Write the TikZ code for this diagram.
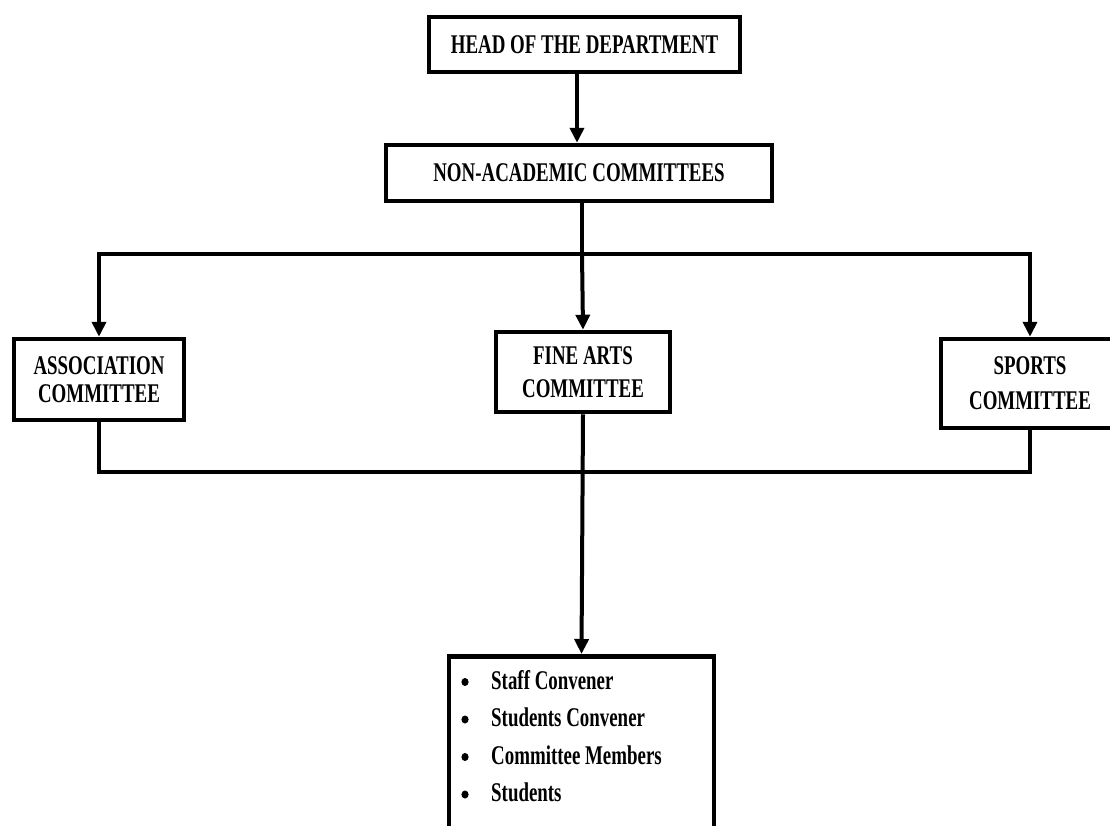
\documentclass[tikz,border=0pt]{standalone}
\usepackage{fontspec}
\usetikzlibrary{arrows.meta}
\newfontfamily\chartfont[FakeStretch=0.70]{Liberation Serif}

\begin{document}
\begin{tikzpicture}[x=1pt,y=-1pt,
  box/.style={draw, line width=4.5pt, inner sep=0pt, align=center,
    font=\chartfont\bfseries\fontsize{27}{28}\selectfont},
  link/.style={line width=4pt},
  arr/.style={link, -{Triangle[length=15pt,width=14pt]}},
]
\useasboundingbox (0,0) rectangle (1110,825);
\clip (0,0) rectangle (1110,825);

% boxes
\node[box, minimum width=311pt, minimum height=55pt] (head) at (584.5,44.5) {HEAD OF THE DEPARTMENT};
\node[box, minimum width=386pt, minimum height=56pt] (nonacad) at (579,173) {NON-ACADEMIC COMMITTEES};
\node[box, minimum width=170pt, minimum height=81pt,
  font=\chartfont\bfseries\fontsize{27}{28}\selectfont] (assoc) at (99,379.5) {ASSOCIATION\\COMMITTEE};
\node[box, minimum width=174pt, minimum height=80pt,
  font=\chartfont\bfseries\fontsize{27}{33}\selectfont] (fine) at (583,372) {FINE ARTS\\COMMITTEE};
\node[box, minimum width=178pt, minimum height=89pt,
  font=\chartfont\bfseries\fontsize{27}{35}\selectfont] (sports) at (1030,383.5) {SPORTS\\COMMITTEE};
\node[draw, line width=4.5pt, inner sep=0pt, minimum width=265pt, minimum height=220pt,
  anchor=north] (members) at (581.5,654) {};

% member list with its bullets
\node[inner sep=0pt, anchor=north west, align=left,
  font=\chartfont\bfseries\fontsize{27}{37.5}\selectfont] (items) at (491,670)
  {Staff Convener\\ Students Convener\\ Committee Members\\ Students};
\foreach \yy in {682,719.5,757,794.5}
  \fill (465,\yy) ellipse [x radius=3.6pt, y radius=4pt];

% junction points of the connectors
\coordinate (down) at (577,0);
\coordinate (split) at (582,254);
\coordinate (merge) at (582,472);

% connectors
\draw[arr] (head.south -| down) -- (nonacad.north -| down);
\draw[link] (nonacad.south -| split) -- (split);
\draw[arr] (split) -| (assoc.north);
\draw[arr] (split) -| (sports.north);
\draw[arr] (split) -- (fine.north);
\draw[link] (assoc.south) |- (merge) -| (sports.south);
\draw[arr] (fine.south) -- (members.north);
\end{tikzpicture}
\end{document}
